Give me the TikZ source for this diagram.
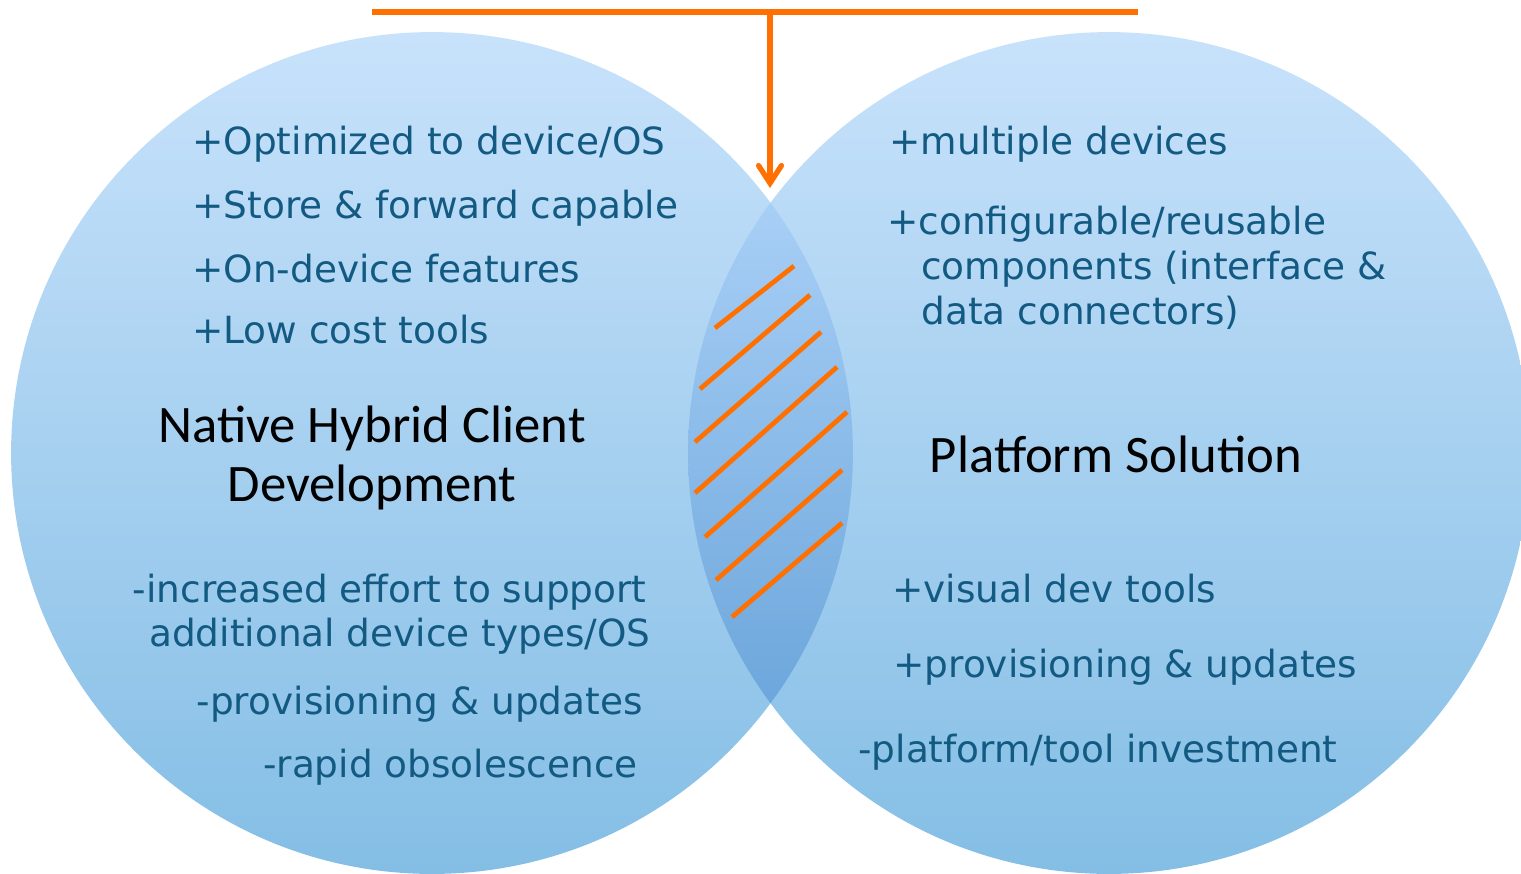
\documentclass[tikz,border=0pt]{standalone}
\usepackage{fontspec}
\setmainfont{DejaVu Sans}
\newfontfamily\titlefont{Carlito}
\usepackage{tikz}
\usetikzlibrary{arrows.meta}
\definecolor{barorange}{RGB}{255,112,0}
\definecolor{itemblue}{RGB}{18,90,130}
\definecolor{circletop}{RGB}{200,226,251}
\definecolor{circlebottom}{RGB}{132,190,229}
\definecolor{lenstop}{RGB}{168,207,246}
\definecolor{lensbottom}{RGB}{108,166,219}

\tikzset{
	listitem/.style={anchor=base west, inner sep=0pt, text=itemblue, font=\fontsize{21.3}{25.5}\selectfont},
	heading/.style={anchor=base, inner sep=0pt, font=\titlefont\fontsize{30}{34}\selectfont},
	hatchline/.style={barorange, line width=2.7pt},
}

\begin{document}
\begin{tikzpicture}[x=0.02cm, y=-0.02cm]
			\clip (0,0) rectangle (1521,873);
			\coordinate (native) at (432,453);
			\coordinate (platform) at (1109,453);
			\shade [top color=circletop, bottom color=circlebottom] (native) circle [radius=8.42cm];
			\shade [top color=circletop, bottom color=circlebottom] (platform) circle [radius=8.42cm];
			
			%% overlap of the two circles
			\begin{scope}
			\clip (native) circle [radius=8.42cm];
			\clip (platform) circle [radius=8.42cm];
			\shade [top color=lenstop, bottom color=lensbottom] (680,200) rectangle (860,710);
			\end{scope}
			\draw [hatchline] (715,328) -- (794,266);
			\draw [hatchline] (700,389) -- (810,295);
			\draw [hatchline] (695,442) -- (821,332);
			\draw [hatchline] (695,493) -- (837,367);
			\draw [hatchline] (705,537) -- (847,412);
			\draw [hatchline] (716,580) -- (842,470);
			\draw [hatchline] (732,617) -- (842,523);
			
			\coordinate (barL) at (372,12);
			\coordinate (barR) at (1138,12);
			\coordinate (barM) at (770,12);
			\coordinate (lensTop) at (770,188);
			\draw [barorange, line width=3pt] (barL) -- (barR);
			\draw [barorange, line width=3pt, -{Straight Barb[length=10pt, width=13pt, line cap=round]}] (barM) -- (lensTop);
			
			\node [listitem] (optimized) at (192,154) {+Optimized to device/OS};
			\node [listitem] (store) at (192,218) {+Store \& forward capable};
			\node [listitem] (ondevice) at (192,282) {+On-device features};
			\node [listitem] (lowcost) at (192,343) {+Low cost tools};
			\node [heading] (nativeA) at (372,442) {Native Hybrid Client};
			\node [heading] (nativeB) at (372,501) {Development};
			\node [listitem, anchor=base east] (effortA) at (647,602) {-increased effort to support};
			\node [listitem, anchor=base east] (effortB) at (651,646) {additional device types/OS};
			\node [listitem, anchor=base east] (provL) at (643,714) {-provisioning \& updates};
			\node [listitem, anchor=base east] (rapid) at (638,777) {-rapid obsolescence};
			
			\node [listitem] (multiple) at (889,154) {+multiple devices};
			\node [listitem] (configA) at (887,234) {+configurable/reusable};
			\node [listitem] (configB) at (921,279) {components (interface \&};
			\node [listitem] (configC) at (921,324) {data connectors)};
			\node [heading] (platformT) at (1116,472) {Platform Solution};
			\node [listitem] (visual) at (892,602) {+visual dev tools};
			\node [listitem] (provR) at (893,677) {+provisioning \& updates};
			\node [listitem] (invest) at (858,762) {-platform/tool investment};
\end{tikzpicture}
\end{document}
